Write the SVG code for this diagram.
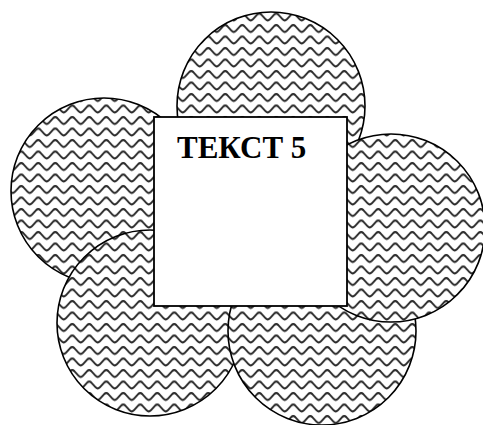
<svg xmlns="http://www.w3.org/2000/svg" width="483" height="425" viewBox="0 0 483 425">
  <style>
    .petal { fill: url(#wave); stroke: #000; stroke-width: 1.6; }
    .box { fill: #fff; stroke: #000; stroke-width: 1.8; }
    .label { font-family: "Liberation Serif", "Times New Roman", serif; font-weight: bold; font-size: 31px; fill: #000; }
  </style>
  <defs>
    <pattern id="wave" patternUnits="userSpaceOnUse" width="17" height="11.5">
      <rect width="17" height="11.5" fill="#fff"/>
      <path d="M-8.5,5.5 L-6.2,8 Q-4.25,9.8 -2.3,8 L2.3,3 Q4.25,1.2 6.2,3 L10.8,8 Q12.75,9.8 14.7,8 L19.3,3 Q21.25,1.2 23.2,3 L25.5,5.5" fill="none" stroke="#2a2a2a" stroke-width="2"/>
    </pattern>
  </defs>
  <rect width="483" height="425" fill="#fff"/>
  <g id="petal-top"><circle class="petal" cx="271" cy="106" r="94"/></g>
  <g id="petal-left"><circle class="petal" cx="104" cy="191" r="93"/></g>
  <g id="petal-bottom-left"><circle class="petal" cx="150" cy="323" r="93"/></g>
  <g id="petal-bottom-right"><circle class="petal" cx="322" cy="331" r="94"/></g>
  <g id="petal-right"><circle class="petal" cx="391" cy="228" r="94"/></g>
  <g id="center">
    <rect class="box" x="154" y="117" width="193" height="189"/>
    <text class="label" x="177" y="158">ТЕКСТ 5</text>
  </g>
  <g id="connectors"/>
</svg>
